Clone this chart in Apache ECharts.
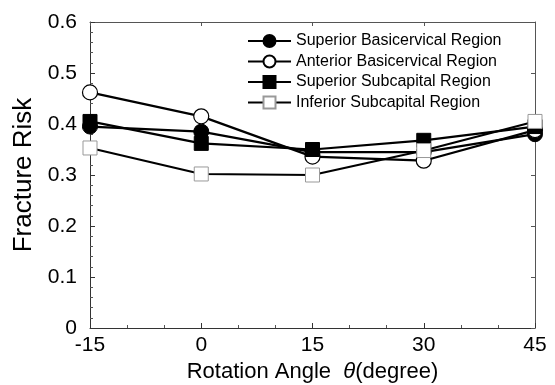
<!DOCTYPE html>
<html>
<head>
<meta charset="utf-8">
<script src="https://cdn.jsdelivr.net/npm/echarts@6/dist/echarts.min.js"></script>
<style>html,body{margin:0;padding:0;background:#fff}#c{width:555px;height:385px}</style>
</head>
<body>
<div id="c"></div>
<script>
var angles = [-15, 0, 15, 30, 45];
var seriesNames = ["Superior Basicervical Region", "Anterior Basicervical Region", "Superior Subcapital Region", "Inferior Subcapital Region"];
var superiorBasicervical = [0.395, 0.385, 0.345, 0.345, 0.380];
var anteriorBasicervical = [0.462, 0.415, 0.336, 0.328, 0.388];
var superiorSubcapital = [0.405, 0.362, 0.350, 0.368, 0.395];
var inferiorSubcapital = [0.353, 0.302, 0.300, 0.348, 0.405];
var xTicks = [-15, 0, 15, 30, 45];
var yTicks = [0, 0.1, 0.2, 0.3, 0.4, 0.5, 0.6];

function pairs(vals){ return angles.map(function(a,i){ return [a, vals[i]]; }); }

var styles = [
  {symbol:'circle', size:15, fill:'#000', border:'#000', bw:1},
  {symbol:'circle', size:15, fill:'#fff', border:'#000', bw:1.2},
  {symbol:'rect', size:14, fill:'#000', border:'#000', bw:1},
  {symbol:'rect', size:14, fill:'#fff', border:'#999', bw:1}
];
var allVals = [superiorBasicervical, anteriorBasicervical, superiorSubcapital, inferiorSubcapital];

var series = allVals.map(function(v, i){
  var s = styles[i];
  return {
    name: seriesNames[i],
    type: 'line',
    data: pairs(v),
    symbol: s.symbol,
    symbolSize: s.size,
    lineStyle: {color:'#000', width:2.2},
    itemStyle: {color: s.fill, borderColor: s.border, borderWidth: s.bw},
    emphasis: {disabled: true},
    animation: false,
    z: 2 + i
  };
});

var chart = echarts.init(document.getElementById('c'), null, {renderer:'canvas'});
var fam = '"Liberation Sans", Arial, sans-serif';
chart.setOption({
  backgroundColor: '#fff',
  animation: false,
  textStyle: {fontFamily: fam},
  grid: {left: 90, right: 20, top: 22, bottom: 57, show: false, containLabel: false, outerBoundsMode: 'none'},
  legend: {
    data: seriesNames,
    orient: 'vertical',
    left: 247, top: 33, padding: 0,
    itemWidth: 43, itemHeight: 15, itemGap: 4.5,
    textStyle: {fontFamily: fam, fontSize: 16, color: '#000', lineHeight: 16},
    selectedMode: false
  },
  xAxis: [{
    type: 'value', min: -15, max: 45, interval: 15,
    axisLine: {show: true, onZero: false, lineStyle: {color:'#333', width:1}},
    axisTick: {show: true, inside: true, length: 5, lineStyle:{color:'#333'}},
    minorTick: {show: true, splitNumber: 3, length: 3, lineStyle:{color:'#555'}},
    splitLine: {show: false},
    axisLabel: {fontSize: 21, color:'#000', margin: 7, fontFamily: fam,
      formatter: function(v){ return xTicks.indexOf(v) >= 0 ? String(v) : ''; }},
    name: 'Rotation Angle  {t|\u03b8}(degree)', nameLocation: 'middle', nameGap: 31,
    nameTextStyle: {fontSize: 22, color:'#000', fontFamily: fam, verticalAlign: 'top',
      rich: {t: {fontSize: 22, fontStyle: 'italic', fontFamily: fam, color: '#000'}}}
  },{
    type: 'value', min: -15, max: 45, interval: 15, position: 'top',
    axisLine: {show: true, onZero: false, lineStyle: {color:'#555', width:1}},
    axisTick: {show: true, inside: true, length: 4, lineStyle:{color:'#555'}},
    axisLabel: {show: false}, splitLine: {show: false}
  }],
  yAxis: [{
    type: 'value', min: 0, max: 0.6, interval: 0.1,
    axisLine: {show: true, onZero: false, lineStyle: {color:'#333', width:1}},
    axisTick: {show: true, inside: true, length: 5, lineStyle:{color:'#333'}},
    minorTick: {show: true, splitNumber: 5, length: 3, lineStyle:{color:'#555'}},
    splitLine: {show: false},
    axisLabel: {fontSize: 21, color:'#000', margin: 13, fontFamily: fam,
      formatter: function(v){ var r = Math.round(v*10)/10; return r === 0 ? '0' : r.toFixed(1); }},
    name: 'Fracture Risk', nameLocation: 'middle', nameGap: 53, nameRotate: 90,
    nameTextStyle: {fontSize: 26, color:'#000', fontFamily: fam}
  },{
    type: 'value', min: 0, max: 0.6, interval: 0.1, position: 'right',
    axisLine: {show: true, onZero: false, lineStyle: {color:'#555', width:1}},
    axisTick: {show: true, inside: true, length: 4, lineStyle:{color:'#555'}},
    axisLabel: {show: false}, splitLine: {show: false}
  }],
  series: series
});
</script>
</body>
</html>
